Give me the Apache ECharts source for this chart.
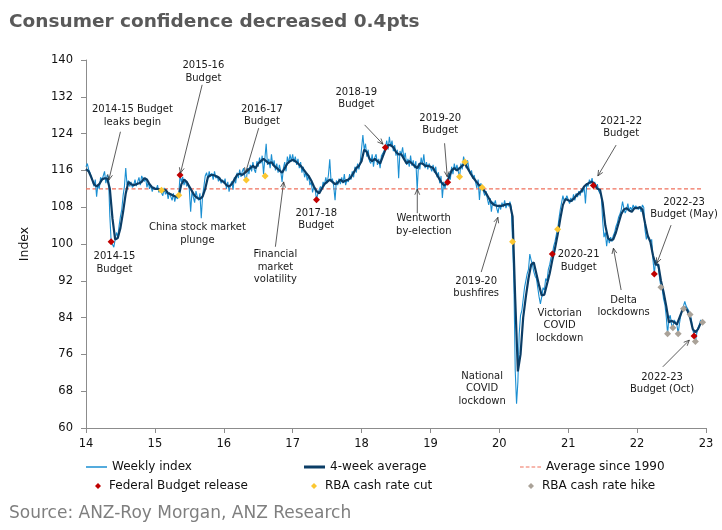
<!DOCTYPE html>
<html><head><meta charset="utf-8">
<script src="https://cdn.jsdelivr.net/npm/echarts@6/dist/echarts.min.js"></script>
<style>html,body{margin:0;padding:0;background:#fff}#c{width:722px;height:530px}</style>
</head><body><div id="c"></div>
<script>
const FONT = '"DejaVu Sans", Verdana, sans-serif';
const chartTitle = 'Consumer confidence decreased 0.4pts';
const sourceText = 'Source: ANZ-Roy Morgan, ANZ Research';
const xTickLabels = ['14','15','16','17','18','19','20','21','22','23'];
const yTickLabels = ['60','68','76','84','92','100','108','116','124','132','140'];
const years = [14,15,16,17,18,19,20,21,22];

// Weekly index, one value per week
const weekly2014 = [116.8,117.5,116.2,115.5,115.6,113.8,112.5,114,110.3,113,112,114.5,113.8,114.8,115.8,113.2,115,114.5,106,100.5,100.8,99.3,101,102.5,101.5,104,106,107.5,110.5,112.5,116.5,112.8,113.8,112.5,113.5,112.3,112.8,114,112.6,113.5,114.5,112.8,114.8,115,113.6,114.4,112.3,113.5,112,112.8,111.4,112.4];
const weekly2015 = [112.5,111.8,112.8,111.2,111.7,111.7,110.5,112.2,110.8,111.5,109.8,111.2,110.3,109.5,111,109.2,110.5,109.8,110.6,115,113.5,114.6,112.8,114,112.5,113.2,111.8,107,111.5,110.2,109,111.5,110.3,109.5,111,105.6,110.5,112.5,114.8,115.5,114.2,115.8,114.6,115.4,114,115.8,114.3,114.8,113.6,114.5,113.2,114];
const weekly2016 = [113.2,114.2,112,113.5,111.4,112.8,113.6,111.8,114.5,113.2,115.5,114.3,116.2,114.6,115.8,116.5,114.5,113.9,116.5,115.2,117.2,115.8,117.8,116.2,115.5,118,116.8,118.8,117.5,119.2,115.2,118.5,121.8,117.2,118.5,116.5,119.5,117,118.2,116,117.5,115.5,117.2,115.8,113.5,116.5,117.8,115.8,119,117.5,119.5,118];
const weekly2017 = [119.5,117.8,119,117.2,118.5,116.5,117.8,115.5,116.8,114.5,115.6,113.8,115,112.8,113.5,111.2,112.5,111.8,109.6,111,110.7,112.5,111.8,113.5,112.8,114.5,113.2,115,118.4,113.6,114.2,112.5,109.5,113.8,112.8,114.2,113,114.5,113.2,115.2,112.8,114,113.5,115.2,114,115.8,114.5,116.8,115.5,117.5,116.2,117.8];
const weekly2018 = [117.5,123.7,120.5,121.8,119,120.5,118,117.5,119.5,116.8,118.8,119.5,117.2,118.5,116.5,119.2,118.8,120.2,121,122.5,120.5,123.3,121.2,122.5,120.2,121.5,119.2,120.5,114.3,120.2,119.5,121,118.5,119.8,117.2,118.5,116.8,119.2,117,118.2,116.5,118,111.7,117.5,116.2,118.8,117.2,119.5,116.5,117.8,116.2,117.5];
const weekly2019 = [117.5,115.8,117.2,115.5,116.8,114.5,115.6,113.2,114.8,110,113.5,112,114,113.4,115.5,114,116.8,115.2,117.5,116,117.2,115.8,114.6,117.5,116.2,119,117.8,116.5,118.2,116.5,115.2,116,114.2,115,113.5,112.2,114,109.6,113.2,112.3,112,110.5,111.5,109.8,108.5,110,107,109.2,108.5,109.5,107.8,106.7];
const weekly2020 = [108.5,107.5,109,108,109.5,107.8,108.8,108.2,109.2,108,100.5,91.5,72.5,65.3,70,80.5,84.5,85.5,88,90.5,92,93.5,94.5,97.8,96.5,95.5,94,93,92.5,90.5,88.5,87,88.5,90.5,90,92.5,92,94.5,95.5,97,97.8,99.5,100.5,102,103.2,105.5,107.5,109,110.5,109.2,109.8,110.5];
const weekly2021 = [110.2,108.8,110,109.2,110.8,109.5,111,110.2,111.5,110.5,112,111.2,112.5,108.8,113.2,112.5,114,113.2,114.3,112.7,113.5,112.2,113,111.5,111.8,110.5,105,101.5,102.5,99.5,101.8,100.2,101.5,100.5,101.8,102.5,103.8,104.5,105.8,106.5,107.4,109.2,107.8,106.7,107.5,108.8,107.2,108,107.4,108.5,107.8,108.3];
const weekly2022 = [108.5,107.5,108.2,107,108.5,108,103,101,102,101.6,100.5,101,96.5,93.5,96.5,95.5,95,92.5,90.6,90,88,86.8,84.2,80.5,83.8,84.5,82.5,81.8,83.5,83.8,82.5,80.5,82.8,84.5,85.5,85.9,87.5,86.5,86.8,85.5,84.7,83.5,81.5,80,78.8,80.5,81.8,82.5,83.5,83];
const weeklyByYear = [weekly2014,weekly2015,weekly2016,weekly2017,weekly2018,weekly2019,weekly2020,weekly2021,weekly2022];

// 4-week average, read every second week
const avg2014 = [116.3,115.8,114.5,113,112.5,113,114,114.3,114.2,112,105.5,101,101.3,103.5,107,111,113.5,113,112.8,113,113.2,113.5,114.3,114,113,112.3];
const avg2015 = [112,112,111.8,111.5,111.8,111,110.8,110.5,110.3,110.5,113,114,113.5,112.5,111.5,110.5,110,109.8,110.3,112,114.5,115,115,114.8,114.5,113.8];
const avg2016 = [113.5,112.8,112.5,113,114,115,115.3,115,115.5,116,116.5,117,116.5,117.5,118,118.5,118,117.5,117.8,117,116.5,116,115.5,116.5,117.5,118];
const avg2017 = [118.3,118,117.5,117,116.3,115.5,114.8,113.8,112.5,111.5,111,112,113,113.5,114,113.5,113,113.3,114,113.5,113.8,114,114.5,115.5,116.5,117];
const avg2018 = [118,120.5,120,118.5,118,118.5,118,117.5,119,120.5,121.5,121.5,121,120,119.5,119.5,118.5,117.5,118,117.5,117,116.5,117.5,117.5,117,117];
const avg2019 = [116.8,116.5,115.5,114.5,113.5,112.8,113,114.5,116,116.5,116,116.5,117,117.5,116.5,115.5,114.5,113.8,113,112.5,111.8,111,110,109,108.5,108.3];
const avg2020 = [108.3,108.3,108.5,108.7,108.7,106,88,72.3,76,84,88.5,92.5,95.5,96,93.5,91,88.8,89,91.3,93.6,96.5,99,102,105.5,108.5,109.8];
const avg2021 = [109.5,109.3,109.8,110.5,111,111.5,112.5,113,113.3,113.5,113,112,111.8,109,104,101.3,100.8,101,102.5,104.5,106.5,107.5,107.8,107.3,107,107.8];
const avg2022 = [107.8,108,107.5,104.5,101.8,100.5,97.5,95.5,95.5,92,89.5,86.5,83,83.3,83,82.5,84,85.5,86.3,85.5,84,81.5,80.8,81.5,82.8];
const avgByYear = [avg2014,avg2015,avg2016,avg2017,avg2018,avg2019,avg2020,avg2021,avg2022];

const avgSince1990 = 112;
const avgSpan = [14, 22.95];

// Event markers (date in years since 2000, index value)
const budgetDates = [14.365,15.365,17.346,18.346,19.25,20.769,21.365,22.25,22.827];
const budgetVals  = [100.5,115,109.6,121,113.4,97.8,112.7,93.5,80];
const cutDates = [15.096,15.346,16.327,16.6,19.423,19.5,19.75,20.192,20.846];
const cutVals  = [111.7,110.6,113.9,114.8,114.6,117.8,112.3,100.5,103.2];
const hikeDates = [22.346,22.442,22.519,22.596,22.673,22.769,22.846,22.95];
const hikeVals  = [90.6,80.5,81.8,80.5,85.9,84.7,78.8,83];

// Annotations in data coordinates
const notes = [
  {t:'2014-15 Budget\nleaks begin', x:14.674, y:127.8},
  {t:'2015-16\nBudget', x:15.704, y:137.4},
  {t:'2016-17\nBudget', x:16.553, y:128.0},
  {t:'2018-19\nBudget', x:17.924, y:131.7},
  {t:'2019-20\nBudget', x:19.142, y:126.0},
  {t:'2021-22\nBudget', x:21.768, y:125.4},
  {t:'2022-23\nBudget (May)', x:22.681, y:107.7},
  {t:'2014-15\nBudget', x:14.413, y:95.9},
  {t:'China stock market\nplunge', x:15.617, y:102.2},
  {t:'Financial\nmarket\nvolatility', x:16.749, y:95.0},
  {t:'2017-18\nBudget', x:17.343, y:105.3},
  {t:'Wentworth\nby-election', x:18.903, y:104.2},
  {t:'2019-20\nbushfires', x:19.664, y:90.6},
  {t:'National\nCOVID\nlockdown', x:19.751, y:68.6},
  {t:'Victorian\nCOVID\nlockdown', x:20.876, y:82.3},
  {t:'2020-21\nBudget', x:21.151, y:96.3},
  {t:'Delta\nlockdowns', x:21.804, y:86.4},
  {t:'2022-23\nBudget (Oct)', x:22.362, y:69.7}
];
const arrows = [
  {f:[14.50,124.4], to:[14.331,113.9]},
  {f:[15.686,134.6], to:[15.371,115.4]},
  {f:[16.507,125.2], to:[16.314,115.4]},
  {f:[18.044,125.9], to:[18.311,121.7]},
  {f:[19.205,121.9], to:[19.244,114.6]},
  {f:[21.695,121.5], to:[21.43,114.8]},
  {f:[22.493,104.1], to:[22.286,95.8]},
  {f:[16.749,99.4], to:[16.869,113.5]},
  {f:[18.809,106.7], to:[18.809,111.9]},
  {f:[19.737,93.9], to:[19.979,105.8]},
  {f:[21.768,90.0], to:[21.656,99.1]},
  {f:[22.373,73.3], to:[22.758,79.1]}
];

const weeklyData = [];
years.forEach((yr, k) => weeklyByYear[k].forEach((v, w) => weeklyData.push([yr + w / 52, v])));
const avgData = [];
years.forEach((yr, k) => avgByYear[k].forEach((v, i) => avgData.push([yr + i / 26, v])));
const zip = (a, b) => a.map((d, i) => [d, b[i]]);

const chart = echarts.init(document.getElementById('c'), null, {renderer: 'canvas'});
const legendText = {fontFamily: FONT, fontSize: 12, color: '#111'};
const DASH_ICON = 'path://M0,0H3.5V1H0Z M5.5,0H9V1H5.5Z M11,0H14.5V1H11Z M16.5,0H20V1H16.5Z';
function lg(name, left, top, w, h, pad, icon) {
  const o = {data: [name], left: left, top: top, itemWidth: w, itemHeight: h, padding: 0,
    textStyle: Object.assign({padding: [0, 0, 0, pad || 0]}, legendText), selectedMode: false};
  if (icon) o.icon = icon;
  return o;
}
chart.setOption({
  animation: false,
  backgroundColor: '#fff',
  title: [
    {text: chartTitle, left: 9, top: 13, padding: 0,
     textStyle: {fontFamily: FONT, fontSize: 18.5, fontWeight: 'bold', color: '#595959'}},
    {text: sourceText, left: 9, top: 505, padding: 0,
     textStyle: {fontFamily: FONT, fontSize: 17, fontWeight: 'normal', color: '#7f7f7f'}}
  ],
  grid: {left: 86, right: 16, top: 60, bottom: 102},
  xAxis: {
    type: 'value', min: 14, max: 23, interval: 1,
    axisLine: {lineStyle: {color: '#8c8c8c', width: 1}},
    axisTick: {show: true, length: 5, lineStyle: {color: '#8c8c8c'}},
    axisLabel: {fontFamily: FONT, fontSize: 11.5, color: '#111', margin: 10,
      formatter: v => xTickLabels[Math.round(v - 14)]},
    splitLine: {show: false}
  },
  yAxis: {
    type: 'value', min: 60, max: 140, interval: 8,
    name: 'Index', nameLocation: 'middle', nameGap: 55, nameRotate: 90,
    nameTextStyle: {fontFamily: FONT, fontSize: 12.5, color: '#111'},
    axisLine: {show: true, lineStyle: {color: '#8c8c8c', width: 1}},
    axisTick: {show: true, length: 5, lineStyle: {color: '#8c8c8c'}},
    axisLabel: {fontFamily: FONT, fontSize: 11.5, color: '#111', margin: 13,
      formatter: v => yTickLabels[Math.round((v - 60) / 8)]},
    splitLine: {show: false}
  },
  legend: [
    lg('Weekly index', 86, 461, 21, 1.5, 0, 'rect'),
    lg('4-week average', 304, 461, 21, 3, 0, 'rect'),
    lg('Average since 1990', 520, 461, 21, 1.5, 0, DASH_ICON),
    lg('Federal Budget release', 95, 480, 6, 6, 3),
    lg('RBA cash rate cut', 311, 480, 6, 6, 3),
    lg('RBA cash rate hike', 528, 480, 6, 6, 3)
  ],
  series: [
    {name: 'Average since 1990', type: 'line', symbol: 'none', z: 1,
     data: [[avgSpan[0], avgSince1990], [avgSpan[1], avgSince1990]],
     lineStyle: {color: '#f0705c', width: 1.3, type: [4, 2.5]}, itemStyle: {color: '#f0705c'}},
    {name: 'Weekly index', type: 'line', symbol: 'none', z: 2, data: weeklyData,
     lineStyle: {color: '#1b8fd2', width: 1.1}, itemStyle: {color: '#1b8fd2'}},
    {name: '4-week average', type: 'line', symbol: 'none', z: 3, data: avgData,
     lineStyle: {color: '#0b3d66', width: 2.2}, itemStyle: {color: '#0b3d66'}},
    {name: 'Federal Budget release', type: 'scatter', symbol: 'diamond', symbolSize: 7, z: 5,
     data: zip(budgetDates, budgetVals), itemStyle: {color: '#c00000', opacity: 1}},
    {name: 'RBA cash rate cut', type: 'scatter', symbol: 'diamond', symbolSize: 7, z: 5,
     data: zip(cutDates, cutVals), itemStyle: {color: '#fbc731', opacity: 1}},
    {name: 'RBA cash rate hike', type: 'scatter', symbol: 'diamond', symbolSize: 7, z: 5,
     data: zip(hikeDates, hikeVals), itemStyle: {color: '#aaa298', opacity: 1}}
  ]
});

function px(p) { return chart.convertToPixel({gridIndex: 0}, p); }
const g = [];
notes.forEach(n => {
  const p = px([n.x, n.y]);
  g.push({type: 'text', x: p[0], y: p[1], z: 100,
    style: {text: n.t, fontFamily: FONT, fontSize: 10, fill: '#1a1a1a',
      align: 'center', verticalAlign: 'middle', textAlign: 'center', textVerticalAlign: 'middle', lineHeight: 12.5}});
});
arrows.forEach(a => {
  const p1 = px(a.f), p2 = px(a.to);
  const ang = Math.atan2(p2[1] - p1[1], p2[0] - p1[0]);
  const L = 6, w = 0.42;
  const b1 = [p2[0] - L * Math.cos(ang - w), p2[1] - L * Math.sin(ang - w)];
  const b2 = [p2[0] - L * Math.cos(ang + w), p2[1] - L * Math.sin(ang + w)];
  g.push({type: 'line', z: 100, shape: {x1: p1[0], y1: p1[1], x2: p2[0], y2: p2[1]},
    style: {stroke: '#333', lineWidth: 0.8}});
  g.push({type: 'polyline', z: 100, shape: {points: [b1, p2, b2]},
    style: {stroke: '#333', lineWidth: 0.8, fill: null}});
});
chart.setOption({graphic: g});
</script>
</body></html>
